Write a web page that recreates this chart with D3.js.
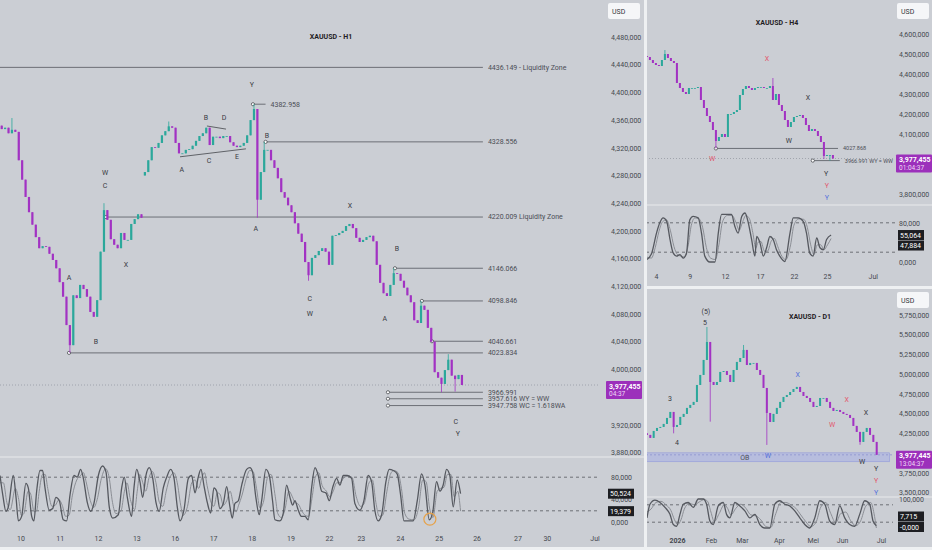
<!DOCTYPE html>
<html>
<head>
<meta charset="utf-8">
<script src="https://cdn.jsdelivr.net/npm/d3@7"></script>
<style>
  html, body { margin: 0; padding: 0; background: #cbced4; }
  svg { display: block; font-family: Roboto, "Liberation Sans", sans-serif; }
</style>
</head>
<body>
<div id="chart"></div>
<script>
// ---------- H1 (hours from left edge, 2h candles) ----------
const H1_CLOSE = [
  4347, 4349, 4341, 4346, 4343, 4302, 4274, 4249, 4227, 4209,
  4191, 4175, 4178, 4177, 4167, 4158, 4146, 4126, 4105, 4064,
  4035, 4107, 4103, 4122, 4116, 4105, 4083, 4076, 4100, 4170,
  4230, 4216, 4188, 4180, 4175, 4197, 4187, 4187, 4210, 4217,
  4224, 4219, 4285, 4302, 4321, 4320, 4327, 4338, 4344, 4351,
  4349, 4327, 4312, 4312, 4317, 4318, 4323, 4330, 4337, 4341,
  4349, 4324, 4336, 4336, 4334, 4337, 4337, 4328, 4323, 4321,
  4323, 4327, 4338, 4360, 4376, 4245, 4285, 4317, 4317, 4302,
  4291, 4276, 4256, 4248, 4237, 4227, 4211, 4196, 4184, 4155,
  4136, 4161, 4165, 4171, 4175, 4170, 4151, 4193, 4194, 4197,
  4200, 4207, 4210, 4204, 4190, 4184, 4187, 4191, 4193, 4185,
  4151, 4125, 4110, 4106, 4122, 4139, 4138, 4128, 4118, 4107,
  4097, 4071, 4067, 4092, 4086, 4060, 4040, 3996, 3988, 3979,
  3999, 4014, 3991, 3986, 3992, 3977.455
];
const H1_FIRST_OPEN = 4352;
const H1_GAP_OPEN = [[42, 4280]];
// [candle, high, low]
const H1_WICK = [
  [3, 4363, null], [20, null, 4023.834], [30, 4240, null], [49, 4358, null],
  [74, 4382.958, null], [75, null, 4219], [77, 4328.556, null], [90, null, 4128],
  [115, 4146.066, null], [123, 4098.846, null], [126, 4040.661, null],
  [129, null, 3966.991], [131, 4022, null], [133, null, 3968]
];
const H1_YTICKS = d3.range(4480, 3879, -40);
const H1_XTICK_HOURS = [12, 35, 57.5, 80, 102.5, 125, 147.7, 170.4, 193, 211.7, 234.6, 257.4, 279.6, 303.6, 320.8, 348.8];
const H1_XTICK_LABELS = ["10", "11", "12", "13", "16", "17", "18", "19", "22", "23", "24", "25", "26", "27", "30", "Jul"];

const H1_LEVEL_PRICE = [4436.149, 4382.958, 4328.556, 4220.009, 4146.066, 4098.846, 4040.661, 4023.834, 3966.991, 3957.616, 3947.758];
const H1_LEVEL_TEXT = ["4436.149 - Liquidity Zone", "4382.958", "4328.556", "4220.009 Liquidity Zone", "4146.066", "4098.846",
  "4040.661", "4023.834", "3966.991", "3957.616 WY = WW", "3947.758 WC = 1.618WA"];
const H1_LEVEL_FROM = [null, 148.4, 155.8, 62.2, 231.7, 247.5, 253.4, 40.5, 227.6, 227.6, 227.6];
const H1_LEVEL_TO = [283.3, 155.8, 283.3, 283.3, 283.3, 283.3, 283.3, 283.3, 283.3, 283.3, 283.3];

const H1_WAVE_HOUR = [61.6, 61.6, 40.5, 56.3, 73.9, 106.7, 120.8, 122.6, 131.4, 139, 147.8, 150.1, 156.6, 181.8, 181.8, 205.3, 232.8, 225.8, 267.4, 268.6];
const H1_WAVE_PRICE = [4284, 4265, 4133, 4040, 4151, 4288, 4364, 4302, 4364, 4307, 4411, 4203, 4337, 4102, 4080, 4236, 4174, 4073, 3924, 3907];
const H1_WAVE_TEXT = ["W", "C", "A", "B", "X", "A", "B", "C", "D", "E", "Y", "A", "B", "C", "W", "X", "B", "A", "C", "Y"];
// triangle trend lines [hour1, price1, hour2, price2]
const H1_TRIANGLE = [[105.6, 4307, 144.3, 4318.5], [121.4, 4351.5, 132.6, 4347]];

// stochastic [hour, value]
const H1_K = [[0,83],[1.6,49],[3.5,19],[4.9,27],[7.8,83],[9.4,44],[10.8,2],[12.7,10],[15.2,69],[16.6,61],[18.6,10],[19.9,2],
  [21.5,55],[23.5,92],[25,92],[26.4,61],[28.9,21],[30.9,24],[32.8,44],[34.8,38],[37.1,4],[39.1,2],[41.1,49],[43.4,83],
  [45.3,80],[47.3,94],[48.9,78],[51.2,35],[53.2,19],[55.1,33],[57.7,83],[60.2,100],[62.2,89],[64.1,27],[66.1,7],[69.4,13],
  [71.4,61],[72.9,80],[74.7,44],[77.2,10],[78.6,61],[80.2,94],[82.1,72],[83.7,44],[85.6,83],[87.6,97],[89.6,78],[91.5,35],
  [93.4,19],[95.8,61],[97.8,80],[100.1,94],[102.1,78],[104,27],[105.6,2],[107.9,21],[110.5,78],[112.4,83],[114.4,52],
  [116.3,80],[117.9,94],[119.6,66],[121.6,35],[123.6,16],[125.5,61],[127.1,55],[129,24],[131,33],[133,63],[134.9,27],
  [136.3,7],[137.8,33],[139.8,38],[141.8,66],[144.7,94],[146.6,97],[148.2,89],[150.1,44],[152.1,13],[153.5,38],[156,94],
  [158,83],[159.9,38],[161.3,4],[164.2,2],[166.2,16],[168.1,66],[170.1,44],[171.7,30],[173,38],[175,21],[176.9,10],
  [178.9,10],[180.8,4],[182.8,61],[184.8,97],[186.7,83],[188.7,55],[191.2,52],[193.2,38],[195.1,61],[197.5,78],[199.4,66],
  [201.4,83],[203.7,83],[206.3,78],[208.2,33],[211.1,21],[213.5,38],[216,83],[218,72],[219.9,21],[221.9,2],[223.9,13],
  [226.4,72],[228.3,94],[230.7,92],[233,86],[235,49],[237,2],[242.4,2],[244.8,38],[247.3,86],[249.3,66],[251.8,4],
  [253.8,16],[256.1,72],[258.1,55],[260,66],[262,94],[263.9,83],[265.9,27],[268.2,75],[270.2,50.524]];
const H1_D = [[0,70],[2,70],[4,35],[6,22],[9,60],[11,40],[12.5,12],[14,15],[16.5,55],[18,50],[20,18],[21.5,20],[23,55],
  [25,85],[26.5,85],[28,60],[30.5,28],[32.5,30],[34.5,40],[36.5,30],[38.5,10],[40.5,12],[42.5,48],[45,75],[47,82],[49,88],
  [50.5,72],[53,38],[55,26],[57,40],[59.5,78],[62,95],[64,80],[66,35],[68,15],[71,20],[73,55],[74.5,70],[76.5,40],[79,22],
  [80.5,55],[82,85],[84,68],[85.5,55],[87.5,80],[89.5,90],[91.5,70],[93.5,35],[95.5,28],[97.5,55],[99.5,78],[102,88],
  [104,70],[106,30],[107.5,12],[110,28],[112.5,70],[114.5,75],[116.5,60],[118.5,80],[120,88],[121.5,65],[123.5,38],
  [125.5,28],[127.5,52],[129,50],[131,30],[133,38],[135,55],[137,30],[138.5,18],[140,30],[142,48],[144.5,78],[146.5,92],
  [148.5,90],[150.5,60],[152.5,25],[154.5,35],[157,80],[159,85],[161.5,45],[163,15],[165,8],[167,20],[169.5,55],[171.5,45],
  [173,35],[175,32],[177,20],[179,12],[181,10],[183,42],[185,80],[187,88],[189,65],[191.5,55],[193.5,45],[195.5,55],
  [197.5,70],[199.5,70],[201.5,78],[204,82],[206.5,80],[209,45],[211.5,28],[213.5,32],[216.5,70],[218.5,75],[220.5,35],
  [222.5,10],[224.5,12],[227,55],[229,85],[231,92],[233.5,88],[235.5,60],[237.5,15],[240,5],[243,4],[245.5,25],[248,75],
  [250,72],[252,25],[254,8],[256.5,55],[258.5,60],[260.5,62],[262.5,85],[264.5,85],[266.5,45],[268.5,55],[270.2,19.379]];
const H1_OSC_LAST = [50.524, 19.379];
const H1_MARK = [252.2, 5]; // orange circle on oscillator

// ---------- H4 (candle index) ----------
const H4_CLOSE = [
  4485, 4470, 4455, 4445, 4440, 4470, 4500, 4480, 4465, 4455,
  4355, 4330, 4310, 4300, 4330, 4330, 4330, 4335, 4270, 4230,
  4190, 4160, 4120, 4065, 4085, 4100, 4085, 4200, 4200, 4210,
  4220, 4295, 4325, 4340, 4330, 4320, 4330, 4335, 4335, 4330,
  4330, 4340, 4270, 4300, 4245, 4215, 4170, 4135, 4160, 4185,
  4190, 4195, 4180, 4145, 4115, 4125, 4115, 4090, 4060, 3990,
  3995, 3995, 3977.455
];
const H4_FIRST_OPEN = 4490;
const H4_WICK = [[6, 4520, null], [23, null, 4027.868], [42, 4380, null], [59, null, 3975], [61, null, 3966.991]];
const H4_YTICKS = d3.range(4600, 3799, -100);
const H4_XTICK_IDX = [3, 14.3, 26, 37.7, 49, 60, 75.3];
const H4_XTICK_LABELS = ["4", "9", "12", "17", "22", "25", "Jul"];
const H4_LEVEL_PRICE = [4027.868, 3966.991];
const H4_LEVEL_TEXT = ["4027.868", "3966.991 WY = WW"];
const H4_LEVEL_FROM = [23, 55.3];
const H4_LEVEL_TO = [63.7, 64.3];
// degree: 0 black, 1 red, 2 blue
const H4_WAVE_IDX = [40, 53.7, 47.3, 21.7, 59.7, 60, 60];
const H4_WAVE_PRICE = [4475, 4280, 4065, 3975, 3900, 3840, 3780];
const H4_WAVE_TEXT = ["X", "X", "W", "W", "Y", "Y", "Y"];
const H4_WAVE_DEGREE = [1, 0, 0, 1, 0, 1, 2];
const H4_K = [[0,5],[1.6,18],[3.2,59],[4.3,80],[5.4,90],[6.6,83],[7.7,46],[8.8,18],[9.9,12],[11,15],[12.1,8],[13.2,18],
  [14.3,86],[15.4,93],[17.1,90],[18.2,59],[19.3,12],[21,0],[22.7,0],[23.8,59],[24.9,97],[26.6,97],[28.2,97],[29.3,73],
  [30.4,59],[31.6,93],[32.7,100],[33.8,80],[34.9,46],[36,12],[36.6,52],[37.7,39],[38.8,12],[39.9,29],[41,52],[42.1,46],
  [43.2,25],[44.3,12],[46,1],[47.7,59],[48.8,90],[50.4,90],[52.1,83],[53.2,59],[54.3,18],[55.4,12],[56.6,49],[57.7,29],
  [58.8,25],[59.9,46],[61.4,55.064]];
const H4_D = [[0,10],[1.5,8],[2.8,30],[4,62],[5.2,82],[6.5,86],[7.8,65],[9,32],[10.2,15],[11.4,12],[12.5,10],[13.8,35],
  [14.8,75],[16,90],[17.4,88],[18.6,70],[19.8,30],[21.2,8],[22.8,5],[24,35],[25.2,82],[26.8,95],[28.4,95],[29.6,82],
  [30.8,65],[31.8,80],[33,95],[34.2,88],[35.3,60],[36.3,28],[37,40],[38,42],[39.2,22],[40.2,22],[41.4,42],[42.5,48],
  [43.6,32],[44.7,15],[46.3,5],[47.9,35],[49,75],[50.6,88],[52.3,87],[53.5,70],[54.6,35],[55.7,15],[56.8,35],[58,35],
  [59,25],[60.2,35],[61.4,47.884]];
const H4_OSC_LAST = [55.064, 47.884];

// ---------- D1 (candle index, 2 sessions each) ----------
const D1_CLOSE = [
  4230, 4192, 4280, 4318, 4331, 4369, 4445, 4521, 4331, 4356,
  4458, 4496, 4572, 4610, 4648, 4863, 4990, 5180, 5408, 4901,
  4863, 4901, 5028, 5040, 4990, 4901, 5053, 5155, 5205, 5307,
  5116, 5142, 5142, 5053, 4990, 4825, 4508, 4394, 4496, 4572,
  4648, 4711, 4736, 4774, 4812, 4838, 4774, 4724, 4698, 4648,
  4584, 4597, 4698, 4698, 4648, 4572, 4534, 4546, 4521, 4496,
  4483, 4445, 4344, 4268, 4141, 4268, 4318, 4230, 4141, 3977.445
];
const D1_FIRST_OPEN = 4250;
const D1_WICK = [[8, null, 4250], [18, 5598, null], [19, null, 4398], [29, 5370, null], [36, null, 4103], [64, null, 4105]];
const D1_YTICKS = [5750, 5500, 5250, 5000, 4750, 4500, 4250, 4000, 3750, 3500];
const D1_XTICK_IDX = [9, 19.2, 28.5, 39.6, 49.8, 58.6, 70.3];
const D1_XTICK_LABELS = ["2026", "Feb", "Mar", "Apr", "Mei", "Jun", "Jul"];
const D1_OB = [3890, 4003];
const D1_OB_SPAN = [-0.3, 72.9];
const D1_WAVE_IDX = [17.7, 17.4, 6.9, 9, 45.3, 60, 55.6, 65.8, 36.3, 64.6, 68.8, 68.8, 68.8];
const D1_WAVE_PRICE = [5800, 5649, 4686, 4128, 4990, 4673, 4356, 4508, 3963, 3888, 3799, 3647, 3495];
const D1_WAVE_TEXT = ["(5)", "5", "3", "4", "X", "X", "W", "X", "W", "W", "Y", "Y", "Y"];
const D1_WAVE_DEGREE = [0, 0, 0, 0, 2, 1, 1, 0, 2, 0, 0, 1, 2];
const D1_K = [[0,35],[0.9,82],[2.4,96],[3.9,88],[5.4,71],[6.9,47],[7.9,12],[8.9,6],[9.9,47],[10.9,82],[12.4,88],[13.9,71],
  [15.4,100],[16.9,100],[17.9,82],[18.9,24],[19.9,12],[21.4,76],[22.9,88],[23.9,47],[24.9,35],[26.4,88],[27.9,76],[29.4,59],
  [30.9,35],[32.4,47],[33.9,12],[35.4,0],[36.9,0],[38.4,82],[39.9,94],[41.4,82],[42.9,76],[44.4,59],[45.9,35],[47.4,12],
  [48.9,0],[50.4,35],[51.9,94],[53.4,82],[54.9,24],[56.4,12],[57.9,76],[59.4,35],[60.9,12],[62.4,6],[63.9,47],[65.4,94],
  [66.9,82],[67.9,24],[68.9,7.715]];
const D1_D = [[0,55],[1.2,65],[2.7,88],[4.2,92],[5.7,80],[7.2,60],[8.2,30],[9.2,12],[10.2,28],[11.2,65],[12.7,85],[14.2,80],
  [15.7,90],[17.2,98],[18.2,92],[19.2,55],[20.2,22],[21.7,50],[23.2,80],[24.2,68],[25.2,45],[26.7,68],[28.2,82],[29.7,68],
  [31.2,45],[32.7,42],[34.2,28],[35.7,5],[37.2,2],[38.7,50],[40.2,88],[41.7,88],[43.2,80],[44.7,68],[46.2,45],[47.7,22],
  [49.2,5],[50.7,18],[52.2,72],[53.7,88],[55.2,50],[56.7,18],[58.2,50],[59.7,55],[61.2,25],[62.7,8],[64.2,25],[65.7,75],
  [67.2,88],[68.2,50],[68.9,0]];
const D1_OSC_LAST = [7.715, -0];

// ---------- helpers ----------
const fmt = d3.formatLocale({ decimal: ",", thousands: ",", grouping: [3], currency: ["", ""] }).format(",.3f");
const numLabel = v => (v < 0 || Object.is(v, -0) ? "-" : "") + fmt(Math.abs(v));
const UP = "#2ba89b", DOWN = "#a232c3";
const WAVE_COLORS = ["#383a3f", "#e2566b", "#5470dc"];
const AXIS_TEXT = "#45484f";

const svg = d3.select("#chart").append("svg").attr("width", 932).attr("height", 550);
svg.append("rect").attr("width", 932).attr("height", 550).attr("fill", "#cbced4");

let clipCount = 0;
function clipped(x0, y0, w, h) {
  const id = "clip" + (clipCount++);
  svg.append("clipPath").attr("id", id).append("rect").attr("x", x0).attr("y", y0).attr("width", w).attr("height", h);
  return svg.append("g").attr("clip-path", "url(#" + id + ")");
}

function buildCandles(closes, firstOpen, gaps, wicks) {
  const gapMap = new Map(gaps);
  const wickMap = new Map(wicks.map(w => [w[0], w]));
  return closes.map((c, i) => {
    const o = i === 0 ? firstOpen : (gapMap.has(i) ? gapMap.get(i) : closes[i - 1]);
    const w = wickMap.get(i);
    let h = Math.max(o, c), l = Math.min(o, c);
    if (w && w[1] != null) h = Math.max(h, w[1]);
    if (w && w[2] != null) l = Math.min(l, w[2]);
    return { i, o, h, l, c };
  });
}

function drawCandles(g, candles, xOf, y, bw) {
  const col = d => d.c >= d.o ? UP : DOWN;
  g.selectAll("line.wick").data(candles).join("line").attr("class", "wick")
    .attr("x1", d => xOf(d.i)).attr("x2", d => xOf(d.i))
    .attr("y1", d => y(d.h)).attr("y2", d => y(d.l))
    .attr("stroke", col).attr("stroke-width", 0.8);
  g.selectAll("rect.body").data(candles).join("rect").attr("class", "body")
    .attr("x", d => xOf(d.i) - bw / 2).attr("width", bw)
    .attr("y", d => y(Math.max(d.o, d.c)))
    .attr("height", d => Math.max(0.8, Math.abs(y(d.o) - y(d.c))))
    .attr("fill", col);
}

function drawOsc(g, k, d, x, y, x0, x1) {
  [80, 20].forEach(v => {
    g.append("line").attr("x1", x0).attr("x2", x1).attr("y1", y(v)).attr("y2", y(v))
      .attr("stroke", "#55585e").attr("stroke-width", 0.8).attr("stroke-dasharray", "3,3");
  });
  const line = d3.line().x(p => x(p[0])).y(p => y(p[1])).curve(d3.curveMonotoneX);
  g.append("path").datum(d).attr("d", line).attr("fill", "none").attr("stroke", "#8b8e95").attr("stroke-width", 1);
  g.append("path").datum(k).attr("d", line).attr("fill", "none").attr("stroke", "#55585f").attr("stroke-width", 1.3);
}

// hide = [top, bottom] of the price label; ticks under it are dropped
function yAxis(y, ticks, xPos, hide) {
  const vals = ticks.filter(t => !hide || !(y(t) > hide[0] - 1 && y(t) < hide[1] + 2));
  const g = svg.append("g").attr("transform", "translate(" + xPos + ",0)")
    .call(d3.axisRight(y).tickValues(vals).tickFormat(numLabel).tickSize(0).tickPadding(0));
  g.select(".domain").remove();
  g.selectAll("text").attr("font-size", 7).attr("fill", AXIS_TEXT).attr("font-family", "Roboto, sans-serif");
}

function xAxis(x, vals, labels, yPos, boldFirst) {
  const g = svg.append("g").attr("transform", "translate(0," + yPos + ")")
    .call(d3.axisBottom(x).tickValues(vals).tickFormat((d, i) => labels[i]).tickSize(0).tickPadding(0));
  g.select(".domain").remove();
  g.selectAll("text").attr("font-size", 7).attr("fill", AXIS_TEXT).attr("font-family", "Roboto, sans-serif")
    .attr("font-weight", (d, i) => boldFirst && i === 0 ? "bold" : "normal");
}

function priceBox(x0, yv, price, timer) {
  const top = yv - 4;
  svg.append("rect").attr("x", x0).attr("y", top).attr("width", 36).attr("height", 18).attr("rx", 1).attr("fill", "#9c30bb");
  svg.append("text").attr("x", x0 + 3).attr("y", top + 7.5).text(numLabel(price))
    .attr("font-size", 7).attr("font-weight", "bold").attr("fill", "#fff");
  svg.append("text").attr("x", x0 + 3).attr("y", top + 15).text(timer)
    .attr("font-size", 6.5).attr("fill", "#efd9f6");
}

function oscBoxes(x0, y, vals, bottom) {
  const items = vals.map(v => ({ v, y: y(v) })).sort((a, b) => a.y - b.y);
  for (let i = 1; i < items.length; i++) items[i].y = Math.max(items[i].y, items[i - 1].y + 10.5);
  const over = items[items.length - 1].y - bottom;
  if (over > 0) items.forEach(it => { it.y -= over; });
  items.forEach(it => {
    svg.append("rect").attr("x", x0).attr("y", it.y - 5).attr("width", 26).attr("height", 10).attr("fill", "#1d1e22");
    svg.append("text").attr("x", x0 + 2).attr("y", it.y + 2.5).text(numLabel(it.v))
      .attr("font-size", 7).attr("fill", "#fff");
  });
}

function waveLabels(g, xs, ps, texts, degrees, x, y) {
  texts.forEach((t, i) => {
    g.append("text").attr("x", x(xs[i])).attr("y", y(ps[i])).attr("dy", "0.35em")
      .attr("text-anchor", "middle").attr("font-size", 7)
      .attr("fill", WAVE_COLORS[degrees ? degrees[i] : 0]).text(t);
  });
}

function levels(g, prices, texts, from, to, x, y, left, fs) {
  prices.forEach((p, i) => {
    const xa = from[i] == null ? left : x(from[i]);
    const xb = x(to[i]);
    g.append("line").attr("x1", xa).attr("x2", xb).attr("y1", y(p)).attr("y2", y(p))
      .attr("stroke", "#6c6f76").attr("stroke-width", 1);
    if (from[i] != null) {
      g.append("circle").attr("cx", xa).attr("cy", y(p)).attr("r", 1.6)
        .attr("fill", "#fff").attr("stroke", "#3a3c40").attr("stroke-width", 0.7);
    }
    g.append("text").attr("x", xb + 5).attr("y", y(p)).attr("dy", "0.35em")
      .attr("font-size", fs).attr("fill", "#4a4d54").text(texts[i]);
  });
}

function title(xc, yc, t) {
  svg.append("text").attr("x", xc).attr("y", yc).attr("dy", "0.35em").attr("text-anchor", "middle")
    .attr("font-size", 7).attr("font-weight", "bold").attr("fill", "#1f2023").text(t);
}

function usdBox(x0, y0) {
  svg.append("rect").attr("x", x0).attr("y", y0).attr("width", 32).attr("height", 16).attr("rx", 2).attr("fill", "#f5f6f8");
  svg.append("text").attr("x", x0 + 4).attr("y", y0 + 10.5).attr("font-size", 7).attr("fill", "#33353a").text("USD");
}

function priceLine(x0, x1, yv, color, dash) {
  svg.append("line").attr("x1", x0).attr("x2", x1).attr("y1", yv).attr("y2", yv)
    .attr("stroke", color).attr("stroke-width", 0.8).attr("stroke-dasharray", dash);
}

// ================= H1 panel =================
{
  const x = d3.scaleLinear().domain([0, 352]).range([0, 600]);
  const y = d3.scaleLinear().domain([4480, 3880]).range([37, 452.5]);
  const yo = d3.scaleLinear().domain([0, 100]).range([522, 466]);
  const candleX = i => x(2 * i + 1);
  const last = H1_CLOSE[H1_CLOSE.length - 1];

  priceLine(0, 600, y(last), "#959aa3", "1,2");
  const g = clipped(0, 0, 600, 456);
  levels(g, H1_LEVEL_PRICE, H1_LEVEL_TEXT, H1_LEVEL_FROM, H1_LEVEL_TO, x, y, 0, 7);
  H1_TRIANGLE.forEach(t => {
    g.append("line").attr("x1", x(t[0])).attr("y1", y(t[1])).attr("x2", x(t[2])).attr("y2", y(t[3]))
      .attr("stroke", "#44464b").attr("stroke-width", 0.8);
  });
  drawCandles(g, buildCandles(H1_CLOSE, H1_FIRST_OPEN, H1_GAP_OPEN, H1_WICK), candleX, y, 2.2);
  waveLabels(g, H1_WAVE_HOUR, H1_WAVE_PRICE, H1_WAVE_TEXT, null, x, y);

  svg.append("line").attr("x1", 0).attr("x2", 644).attr("y1", 457).attr("y2", 457)
    .attr("stroke", "#dfe1e5").attr("stroke-width", 1.5);

  const go = clipped(0, 458, 600, 76);
  drawOsc(go, H1_K, H1_D, x, yo, 0, 607);
  go.append("circle").attr("cx", x(H1_MARK[0])).attr("cy", yo(H1_MARK[1])).attr("r", 6)
    .attr("fill", "none").attr("stroke", "#e6a24a").attr("stroke-width", 1.2);

  yAxis(y, H1_YTICKS, 611, [y(last) - 4, y(last) + 14]);
  yAxis(yo, [80, 40, 0], 611, null);
  priceBox(606, y(last), last, "04:37");
  oscBoxes(608, yo, H1_OSC_LAST, 527);
  xAxis(x, H1_XTICK_HOURS, H1_XTICK_LABELS, 536, false);
  title(331, 37, "XAUUSD - H1");
  usdBox(608, 3);
}

// ================= H4 panel =================
{
  const x = d3.scaleLinear().domain([-0.3, 82.7]).range([646, 895]);
  const y = d3.scaleLinear().domain([4600, 3800]).range([34, 194]);
  const yo = d3.scaleLinear().domain([0, 100]).range([262, 213]);
  const last = H4_CLOSE[H4_CLOSE.length - 1];

  priceLine(646, 895, y(last), "#959aa3", "1,2");
  const g = clipped(646, 0, 249, 204);
  levels(g, H4_LEVEL_PRICE, H4_LEVEL_TEXT, H4_LEVEL_FROM, H4_LEVEL_TO, x, y, 646, 5.5);
  drawCandles(g, buildCandles(H4_CLOSE, H4_FIRST_OPEN, [], H4_WICK), i => x(i), y, 2);
  waveLabels(g, H4_WAVE_IDX, H4_WAVE_PRICE, H4_WAVE_TEXT, H4_WAVE_DEGREE, x, y);

  svg.append("line").attr("x1", 646).attr("x2", 932).attr("y1", 205).attr("y2", 205)
    .attr("stroke", "#dfe1e5").attr("stroke-width", 1.5);
  const go = clipped(646, 206, 249, 64);
  drawOsc(go, H4_K, H4_D, x, yo, 646, 895);

  yAxis(y, H4_YTICKS, 899, [y(last) - 4, y(last) + 14]);
  yAxis(yo, [80, 0], 899, null);
  priceBox(896, y(last), last, "01:04:37");
  oscBoxes(898, yo, H4_OSC_LAST, 262);
  xAxis(x, H4_XTICK_IDX, H4_XTICK_LABELS, 274, false);
  title(777, 23, "XAUUSD - H4");
  usdBox(897, 3);
}

// ================= D1 panel =================
{
  const x = d3.scaleLinear().domain([-0.3, 73.6]).range([646, 892]);
  const y = d3.scaleLinear().domain([5750, 3500]).range([315, 492.5]);
  const yo = d3.scaleLinear().domain([0, 100]).range([528, 499]);
  const last = D1_CLOSE[D1_CLOSE.length - 1];

  const g = clipped(646, 290, 247, 206);
  g.append("rect").attr("x", x(D1_OB_SPAN[0])).attr("width", x(D1_OB_SPAN[1]) - x(D1_OB_SPAN[0]))
    .attr("y", y(D1_OB[1])).attr("height", y(D1_OB[0]) - y(D1_OB[1]))
    .attr("fill", "rgba(160,168,236,0.45)").attr("stroke", "rgba(130,140,220,0.7)").attr("stroke-width", 0.6);
  g.append("line").attr("x1", 646).attr("x2", 893).attr("y1", y(last)).attr("y2", y(last))
    .attr("stroke", "#8d93cf").attr("stroke-width", 0.8).attr("stroke-dasharray", "2,2");
  g.append("text").attr("x", x(29.4)).attr("y", y(d3.mean(D1_OB))).attr("dy", "0.35em")
    .attr("text-anchor", "middle").attr("font-size", 7).attr("fill", "#50535a").text("OB");
  drawCandles(g, buildCandles(D1_CLOSE, D1_FIRST_OPEN, [], D1_WICK), i => x(i), y, 2);
  waveLabels(g, D1_WAVE_IDX, D1_WAVE_PRICE, D1_WAVE_TEXT, D1_WAVE_DEGREE, x, y);

  svg.append("line").attr("x1", 646).attr("x2", 932).attr("y1", 497).attr("y2", 497)
    .attr("stroke", "#dfe1e5").attr("stroke-width", 1.5);
  const go = clipped(646, 498, 247, 36);
  drawOsc(go, D1_K, D1_D, x, yo, 646, 893);

  yAxis(y, D1_YTICKS, 899, [y(last) - 4, y(last) + 14]);
  yAxis(yo, [100], 899, null);
  priceBox(896, y(last), last, "13:04:37");
  oscBoxes(898, yo, D1_OSC_LAST, 527);
  xAxis(x, D1_XTICK_IDX, D1_XTICK_LABELS, 538, true);
  title(810, 317, "XAUUSD - D1");
  usdBox(897, 292);
}

// panel separators
svg.append("rect").attr("x", 644).attr("y", 0).attr("width", 3).attr("height", 550).attr("fill", "#eef0f2");
svg.append("rect").attr("x", 644).attr("y", 286).attr("width", 288).attr("height", 3).attr("fill", "#eef0f2");
svg.append("rect").attr("x", 0).attr("y", 547).attr("width", 932).attr("height", 3).attr("fill", "#eef0f2");
</script>
</body>
</html>
